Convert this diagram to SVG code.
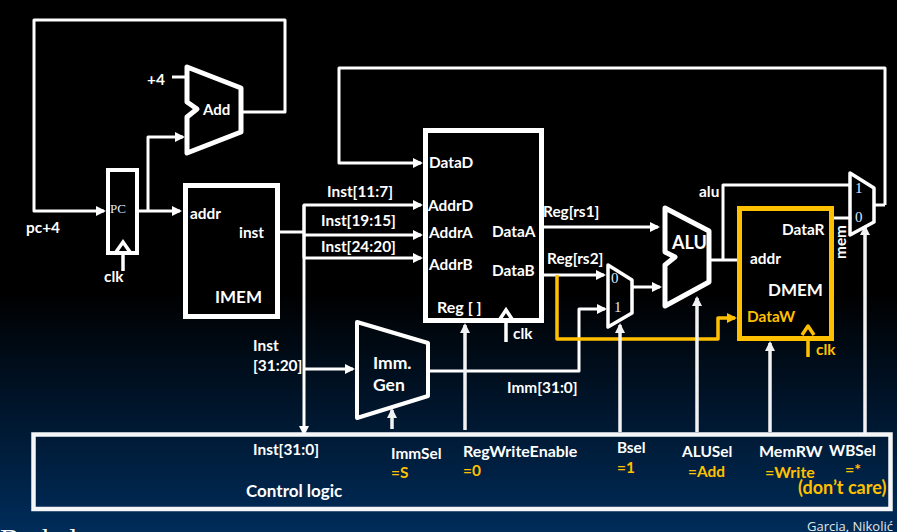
<svg xmlns="http://www.w3.org/2000/svg" width="897" height="532" viewBox="0 0 897 532">
<style>
text{font-family:Lato,"Open Sans","Liberation Sans",sans-serif;font-weight:700;font-size:15.4px;fill:#fff}
.y{fill:#ffc000}
.big{font-size:17px}
.num{font-family:"Liberation Serif",serif;font-weight:400;font-size:15px;fill:#dfe8ff}
.box{fill:#000;stroke:#fff;stroke-width:5}
.shape{fill:none;stroke:#fff;stroke-width:5;stroke-linejoin:round}
.thin{stroke-width:3.5}
.w{fill:none;stroke:#fff;stroke-width:3;stroke-linejoin:round}
.a{marker-end:url(#ah)}
.s{fill:none;stroke:#f2f2f2;stroke-width:3.5;marker-end:url(#ahg)}
.gold{fill:none;stroke:#ffc000;stroke-width:3.5;stroke-linejoin:round}
.chev{fill:none;stroke:#fff;stroke-width:3.5}
</style>
<defs>
<linearGradient id="bg" gradientUnits="userSpaceOnUse" x1="0" y1="0" x2="0" y2="532">
<stop offset="0" stop-color="#000"/><stop offset="0.55" stop-color="#000"/><stop offset="1" stop-color="#002c5a"/>
</linearGradient>
<marker id="ah" markerUnits="userSpaceOnUse" markerWidth="12" markerHeight="12" refX="8" refY="6" orient="auto"><path d="M0 1L10 6L0 11Z" fill="#fff"/></marker>
<marker id="ahg" markerUnits="userSpaceOnUse" markerWidth="12" markerHeight="12" refX="8" refY="6" orient="auto"><path d="M0 1L10 6L0 11Z" fill="#f2f2f2"/></marker>
<marker id="ahy" markerUnits="userSpaceOnUse" markerWidth="12" markerHeight="12" refX="8" refY="6" orient="auto"><path d="M0 1L10 6L0 11Z" fill="#ffc000"/></marker>
</defs>
<rect width="897" height="532" fill="url(#bg)"/>

<g id="connectors">
<path class="w a" d="M243 112H285V20H34V211H104"/>
<path class="w" d="M172 77H185"/>
<path class="w a" d="M139 211H180"/>
<path class="w a" d="M148 211V137H183"/>
<path class="w" d="M280 232H304"/>
<path class="w a" d="M304 258V205H421"/>
<path class="w a" d="M304 235H421"/>
<path class="w a" d="M304 258H421"/>
<path class="w a" d="M304 205V434"/>
<path class="w a" d="M304 369H353"/>
<path class="w a" d="M885 205V68H339V163H421"/>
<path class="w" d="M874 205H885"/>
<path class="w a" d="M544 227H658"/>
<path class="w a" d="M544 275H604"/>
<path class="w a" d="M632 287H660"/>
<path class="w a" d="M428 371H579V309H605"/>
<path class="w" d="M711 260H740" stroke-linecap="round"/>
<path class="w" d="M723 260V185H850"/>
<path class="w" d="M833 218H850" stroke-linecap="round"/>
<path class="gold" d="M557 275V339H718V318H735" marker-end="url(#ahy)"/>
<path class="s" d="M392 429V410"/>
<path class="s" d="M465 430V325"/>
<path class="s" d="M620 432V325"/>
<path class="s" d="M697 432V298"/>
<path class="s" d="M770 432V343"/>
<path class="s" d="M865 434V227"/>
</g>

<g id="add">
<path class="shape" d="M187 67L241 88V132L187 153V117L197 109L187 102Z"/>
<text x="203" y="115" style="font-size:15px">Add</text>
</g>
<g id="pc">
<rect x="108" y="170" width="29" height="83" fill="#000" stroke="#fff" stroke-width="4"/>
<text class="num" x="110" y="213" style="font-size:13px">PC</text>
<path class="chev" d="M116 252L123 242L130 252"/>
<path class="chev" d="M123 254V271"/>
</g>
<g id="imem">
<rect class="box" x="185.5" y="185.5" width="92" height="131"/>
<text x="190" y="219">addr</text>
<text x="239" y="238">inst</text>
<text class="big" x="215" y="303">IMEM</text>
</g>
<g id="regfile">
<rect class="box" x="425.5" y="130.5" width="116" height="190"/>
<text x="429" y="168">DataD</text>
<text x="428" y="211">AddrD</text>
<text x="429" y="238">AddrA</text>
<text x="429" y="270">AddrB</text>
<text x="492" y="237">DataA</text>
<text x="492" y="276">DataB</text>
<text x="437" y="313" style="font-size:16px">Reg [ ]</text>
<path class="chev" d="M500 319L506 310L512 319"/>
<path class="chev" d="M506 322V342"/>
<text x="513" y="339">clk</text>
</g>
<g id="immgen">
<path class="shape" style="stroke-width:4" d="M357 322L428 343V396L357 418Z"/>
<text x="373" y="369" style="font-size:17.5px">Imm.</text>
<text x="373" y="391" style="font-size:17.5px">Gen</text>
</g>
<g id="bmux">
<path class="shape thin" d="M608 265L632 280V313L608 327Z"/>
<text class="num" x="611" y="283">0</text>
<text class="num" x="614" y="312">1</text>
</g>
<g id="alu">
<path class="shape" d="M665 208L709 231V282L665 306V265L675 257L665 252Z"/>
<text x="672" y="249" style="font-size:18px">ALU</text>
</g>
<g id="dmem">
<rect x="739.5" y="208.5" width="92" height="130" fill="#000" stroke="#ffc000" stroke-width="5"/>
<text x="782" y="235">DataR</text>
<text x="750" y="264">addr</text>
<text class="big" x="768" y="296">DMEM</text>
<text class="y" x="747" y="322">DataW</text>
<path class="gold" d="M802 335L808 326L814 335"/>
<path class="gold" d="M808 339V357"/>
<text class="y" x="816" y="355">clk</text>
</g>
<g id="wbmux">
<path class="shape thin" d="M850 173L874 188V222L850 235Z"/>
<text class="num" x="855" y="193">1</text>
<text class="num" x="855" y="222">0</text>
</g>
<g id="control">
<rect x="33.5" y="434.5" width="857" height="74.5" fill="none" stroke="#f4f6f8" stroke-width="4.5"/>
<text x="253" y="455">Inst[31:0]</text>
<text x="391" y="459">ImmSel</text>
<text class="y" x="391" y="478">=S</text>
<text x="246" y="497" style="font-size:17px">Control logic</text>
<text x="463" y="457" style="font-size:16px">RegWriteEnable</text>
<text class="y" x="463" y="476">=0</text>
<text x="617" y="453">Bsel</text>
<text class="y" x="617" y="473">=1</text>
<text x="682" y="457">ALUSel</text>
<text class="y" x="688" y="477">=Add</text>
<text x="759" y="457" style="font-size:16px">MemRW</text>
<text class="y" x="765" y="478" style="font-size:16px">=Write</text>
<text x="829" y="456">WBSel</text>
<text class="y" x="845" y="475" style="font-size:16px">=*</text>
<text class="y" x="798" y="494" style="font-size:18px">(don’t care)</text>
</g>
<g id="labels">
<text x="147" y="85">+4</text>
<text x="26" y="233">pc+4</text>
<text x="104" y="282">clk</text>
<text x="327" y="197">Inst[11:7]</text>
<text x="321" y="226">Inst[19:15]</text>
<text x="321" y="252">Inst[24:20]</text>
<text x="253" y="351">Inst</text>
<text x="253" y="371">[31:20]</text>
<text x="543" y="217">Reg[rs1]</text>
<text x="547" y="264">Reg[rs2]</text>
<text x="507" y="393">Imm[31:0]</text>
<text x="699" y="197">alu</text>
<text transform="translate(846 259) rotate(-90)">mem</text>
</g>
<g id="footer">
<text x="807" y="531" style="font-weight:400;font-size:13px;fill:#e6e6e6;font-family:'Open Sans',sans-serif">Garcia, Nikolić</text>
<text x="0" y="549" style="font-weight:400;font-size:29px;font-family:'Liberation Serif',serif">Berkeley</text>
</g>
</svg>
